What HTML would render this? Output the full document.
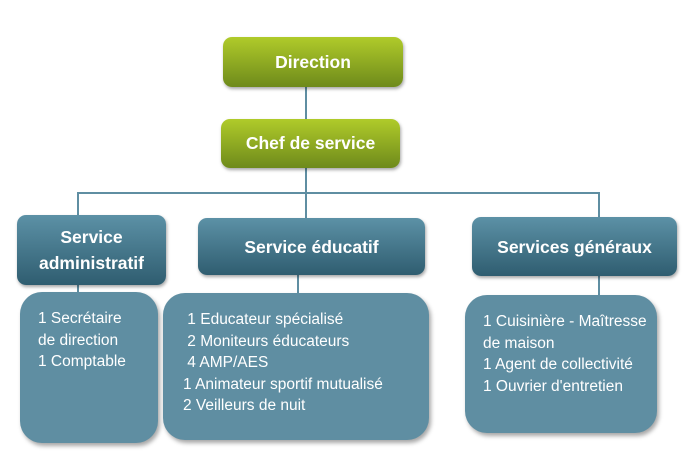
<!DOCTYPE html>
<html><head><meta charset="utf-8"><style>
body{margin:0;width:700px;height:469px;background:#fff;position:relative;overflow:hidden;font-family:"Liberation Sans",sans-serif}
.b{position:absolute;box-sizing:border-box;color:#fff;border-radius:9px}
.g{background:linear-gradient(#b0cb2a,#6e8a1b);font-weight:bold;font-size:17.5px;display:flex;align-items:center;justify-content:center;box-shadow:1px 2px 3px rgba(0,0,0,.35)}
.h{background:linear-gradient(#5c91a6,#2f5d70);font-weight:bold;font-size:17.5px;display:flex;align-items:center;justify-content:center;text-align:center;line-height:26px;box-shadow:1px 2px 3px rgba(0,0,0,.35)}
.t{background:#5f8ea2;border-radius:22px;font-size:15.5px;line-height:21.5px;box-shadow:2px 3px 4px rgba(0,0,0,.35);white-space:nowrap}
.l{position:absolute;background:#5f8ea2}
</style></head><body>
<div class="l" style="left:305px;top:86px;width:2px;height:34px"></div>
<div class="l" style="left:305px;top:167px;width:2px;height:52px"></div>
<div class="l" style="left:77px;top:192px;width:523px;height:2px"></div>
<div class="l" style="left:77px;top:192px;width:2px;height:24px"></div>
<div class="l" style="left:598px;top:192px;width:2px;height:26px"></div>
<div class="l" style="left:77px;top:284px;width:2px;height:10px"></div>
<div class="l" style="left:297px;top:274px;width:2px;height:20px"></div>
<div class="l" style="left:598px;top:275px;width:2px;height:20px"></div>
<div class="b g" style="left:223px;top:37px;width:180px;height:50px">Direction</div>
<div class="b g" style="left:221px;top:119px;width:179px;height:49px">Chef de service</div>
<div class="b h" style="left:17px;top:215px;width:149px;height:70px">Service<br>administratif</div>
<div class="b h" style="left:198px;top:218px;width:227px;height:57px">Service éducatif</div>
<div class="b h" style="left:472px;top:217px;width:205px;height:59px">Services généraux</div>
<div class="b t" style="left:20px;top:292px;width:138px;height:151px;padding:16px 0 0 18px">1 Secrétaire<br>de direction<br>1 Comptable</div>
<div class="b t" style="left:163px;top:293px;width:266px;height:147px;padding:16px 0 0 20px">&nbsp;1 Educateur spécialisé<br>&nbsp;2 Moniteurs éducateurs<br>&nbsp;4 AMP/AES<br>1 Animateur sportif mutualisé<br>2 Veilleurs de nuit</div>
<div class="b t" style="left:465px;top:295px;width:192px;height:138px;padding:16px 0 0 18px">1 Cuisinière - Maîtresse<br>de maison<br>1 Agent de collectivité<br>1 Ouvrier d'entretien</div>
</body></html>
